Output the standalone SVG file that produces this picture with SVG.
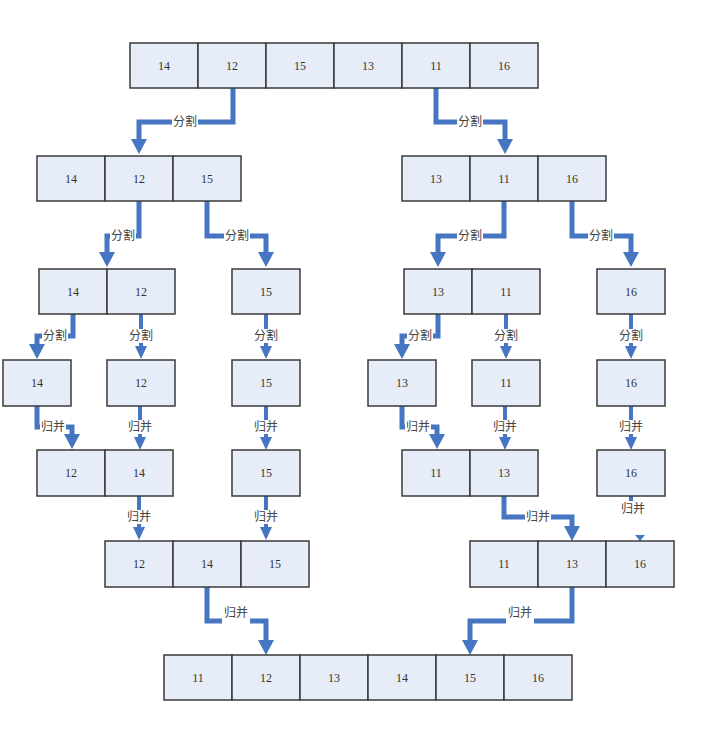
<svg xmlns="http://www.w3.org/2000/svg" width="717" height="730" viewBox="0 0 717 730">
<defs>
<style>
.c{fill:#e7edf8;stroke:#3a3a3a;stroke-width:1.5}
.n{font-family:"Liberation Serif",serif;font-size:12px;fill:#333;text-anchor:middle;dominant-baseline:central}
.l{font-family:"Liberation Serif","Noto Sans CJK SC",serif;font-size:12px;fill:#444;text-anchor:middle;dominant-baseline:central}
.lb{fill:#fff}
.a{fill:none;stroke:#4676c2;stroke-width:5;marker-end:url(#big)}
.s{fill:none;stroke:#4676c2;stroke-width:4;marker-end:url(#small)}
</style>
<marker id="big" viewBox="0 0 15 16" refX="0" refY="8" markerWidth="15" markerHeight="16" markerUnits="userSpaceOnUse" orient="auto"><path d="M0,0L15,8L0,16z" fill="#4676c2"/></marker>
<marker id="small" viewBox="0 0 13 12" refX="0" refY="6" markerWidth="13" markerHeight="12" markerUnits="userSpaceOnUse" orient="auto"><path d="M0,0L13,6L0,12z" fill="#4676c2"/></marker>
</defs>
<rect width="717" height="730" fill="#fff"/>

<g id="connectors">
<path class="a" d="M233,88V122H139V139"/>
<path class="a" d="M436,88V122H505V139"/>
<path class="a" d="M139,201V236H107V252"/>
<path class="a" d="M207,201V236H266V252"/>
<path class="a" d="M504,201V236H438V252"/>
<path class="a" d="M572,201V236H631V252"/>
<path class="a" d="M73,314V336H37V344"/>
<path class="s" d="M141,314V346"/>
<path class="s" d="M266,314V346"/>
<path class="a" d="M438,314V336H402V344"/>
<path class="s" d="M506,314V346"/>
<path class="s" d="M631,314V346"/>
<path class="a" d="M37,406V427H72V434"/>
<path class="s" d="M140,406V437"/>
<path class="s" d="M266,406V437"/>
<path class="a" d="M402,406V427H437V434"/>
<path class="s" d="M505,406V437"/>
<path class="s" d="M631,406V437"/>
<path class="s" d="M139,496V527"/>
<path class="s" d="M266,496V527"/>
<path class="a" d="M504,496V517H572V526"/>
<path d="M631,496V501" stroke="#4676c2" stroke-width="4"/>
<path d="M635,535L645,535L640,541z" fill="#4676c2"/>
<path class="a" d="M207,587V621H266V640"/>
<path class="a" d="M572,587V621H470V640"/>

<rect class="lb" x="172" y="115" width="26" height="14"/><text class="l" x="185" y="122">分割</text>
<rect class="lb" x="457" y="115" width="26" height="14"/><text class="l" x="470" y="122">分割</text>
<rect class="lb" x="110" y="229" width="26" height="14"/><text class="l" x="123" y="236">分割</text>
<rect class="lb" x="224" y="229" width="26" height="14"/><text class="l" x="237" y="236">分割</text>
<rect class="lb" x="457" y="229" width="26" height="14"/><text class="l" x="470" y="236">分割</text>
<rect class="lb" x="588" y="229" width="26" height="14"/><text class="l" x="601" y="236">分割</text>
<rect class="lb" x="42" y="329" width="26" height="14"/><text class="l" x="55" y="336">分割</text>
<rect class="lb" x="128" y="329" width="26" height="14"/><text class="l" x="141" y="336">分割</text>
<rect class="lb" x="253" y="329" width="26" height="14"/><text class="l" x="266" y="336">分割</text>
<rect class="lb" x="407" y="329" width="26" height="14"/><text class="l" x="420" y="336">分割</text>
<rect class="lb" x="493" y="329" width="26" height="14"/><text class="l" x="506" y="336">分割</text>
<rect class="lb" x="618" y="329" width="26" height="14"/><text class="l" x="631" y="336">分割</text>
<rect class="lb" x="40" y="420" width="26" height="14"/><text class="l" x="53" y="427">归并</text>
<rect class="lb" x="127" y="420" width="26" height="14"/><text class="l" x="140" y="427">归并</text>
<rect class="lb" x="253" y="420" width="26" height="14"/><text class="l" x="266" y="427">归并</text>
<rect class="lb" x="405" y="420" width="26" height="14"/><text class="l" x="418" y="427">归并</text>
<rect class="lb" x="492" y="420" width="26" height="14"/><text class="l" x="505" y="427">归并</text>
<rect class="lb" x="618" y="420" width="26" height="14"/><text class="l" x="631" y="427">归并</text>
<rect class="lb" x="126" y="510" width="26" height="14"/><text class="l" x="139" y="517">归并</text>
<rect class="lb" x="253" y="510" width="26" height="14"/><text class="l" x="266" y="517">归并</text>
<rect class="lb" x="525" y="510" width="26" height="14"/><text class="l" x="538" y="517">归并</text>
<text class="l" x="633" y="509">归并</text>
<rect class="lb" x="222" y="606" width="28" height="18"/><text class="l" x="236" y="613">归并</text>
<rect class="lb" x="506" y="606" width="28" height="18"/><text class="l" x="520" y="613">归并</text>
</g>

<g id="row1">
<rect class="c" x="130" y="43" width="68" height="45"/><text class="n" x="164" y="65.5">14</text>
<rect class="c" x="198" y="43" width="68" height="45"/><text class="n" x="232" y="65.5">12</text>
<rect class="c" x="266" y="43" width="68" height="45"/><text class="n" x="300" y="65.5">15</text>
<rect class="c" x="334" y="43" width="68" height="45"/><text class="n" x="368" y="65.5">13</text>
<rect class="c" x="402" y="43" width="68" height="45"/><text class="n" x="436" y="65.5">11</text>
<rect class="c" x="470" y="43" width="68" height="45"/><text class="n" x="504" y="65.5">16</text>
</g>

<g id="row2-left">
<rect class="c" x="37" y="156" width="68" height="45"/><text class="n" x="71" y="178.5">14</text>
<rect class="c" x="105" y="156" width="68" height="45"/><text class="n" x="139" y="178.5">12</text>
<rect class="c" x="173" y="156" width="68" height="45"/><text class="n" x="207" y="178.5">15</text>
</g>
<g id="row2-right">
<rect class="c" x="402" y="156" width="68" height="45"/><text class="n" x="436" y="178.5">13</text>
<rect class="c" x="470" y="156" width="68" height="45"/><text class="n" x="504" y="178.5">11</text>
<rect class="c" x="538" y="156" width="68" height="45"/><text class="n" x="572" y="178.5">16</text>
</g>

<g id="row3-a">
<rect class="c" x="39" y="269" width="68" height="45"/><text class="n" x="73" y="291.5">14</text>
<rect class="c" x="107" y="269" width="68" height="45"/><text class="n" x="141" y="291.5">12</text>
</g>
<g id="row3-b"><rect class="c" x="232" y="269" width="68" height="45"/><text class="n" x="266" y="291.5">15</text></g>
<g id="row3-c">
<rect class="c" x="404" y="269" width="68" height="45"/><text class="n" x="438" y="291.5">13</text>
<rect class="c" x="472" y="269" width="68" height="45"/><text class="n" x="506" y="291.5">11</text>
</g>
<g id="row3-d"><rect class="c" x="597" y="269" width="68" height="45"/><text class="n" x="631" y="291.5">16</text></g>

<g id="row4-a"><rect class="c" x="3" y="360" width="68" height="46"/><text class="n" x="37" y="383">14</text></g>
<g id="row4-b"><rect class="c" x="107" y="360" width="68" height="46"/><text class="n" x="141" y="383">12</text></g>
<g id="row4-c"><rect class="c" x="232" y="360" width="68" height="46"/><text class="n" x="266" y="383">15</text></g>
<g id="row4-d"><rect class="c" x="368" y="360" width="68" height="46"/><text class="n" x="402" y="383">13</text></g>
<g id="row4-e"><rect class="c" x="472" y="360" width="68" height="46"/><text class="n" x="506" y="383">11</text></g>
<g id="row4-f"><rect class="c" x="597" y="360" width="68" height="46"/><text class="n" x="631" y="383">16</text></g>

<g id="row5-a">
<rect class="c" x="37" y="450" width="68" height="46"/><text class="n" x="71" y="473">12</text>
<rect class="c" x="105" y="450" width="68" height="46"/><text class="n" x="139" y="473">14</text>
</g>
<g id="row5-b"><rect class="c" x="232" y="450" width="68" height="46"/><text class="n" x="266" y="473">15</text></g>
<g id="row5-c">
<rect class="c" x="402" y="450" width="68" height="46"/><text class="n" x="436" y="473">11</text>
<rect class="c" x="470" y="450" width="68" height="46"/><text class="n" x="504" y="473">13</text>
</g>
<g id="row5-d"><rect class="c" x="597" y="450" width="68" height="46"/><text class="n" x="631" y="473">16</text></g>

<g id="row6-left">
<rect class="c" x="105" y="541" width="68" height="46"/><text class="n" x="139" y="564">12</text>
<rect class="c" x="173" y="541" width="68" height="46"/><text class="n" x="207" y="564">14</text>
<rect class="c" x="241" y="541" width="68" height="46"/><text class="n" x="275" y="564">15</text>
</g>
<g id="row6-right">
<rect class="c" x="470" y="541" width="68" height="46"/><text class="n" x="504" y="564">11</text>
<rect class="c" x="538" y="541" width="68" height="46"/><text class="n" x="572" y="564">13</text>
<rect class="c" x="606" y="541" width="68" height="46"/><text class="n" x="640" y="564">16</text>
</g>

<g id="row7">
<rect class="c" x="164" y="655" width="68" height="45"/><text class="n" x="198" y="677.5">11</text>
<rect class="c" x="232" y="655" width="68" height="45"/><text class="n" x="266" y="677.5">12</text>
<rect class="c" x="300" y="655" width="68" height="45"/><text class="n" x="334" y="677.5">13</text>
<rect class="c" x="368" y="655" width="68" height="45"/><text class="n" x="402" y="677.5">14</text>
<rect class="c" x="436" y="655" width="68" height="45"/><text class="n" x="470" y="677.5">15</text>
<rect class="c" x="504" y="655" width="68" height="45"/><text class="n" x="538" y="677.5">16</text>
</g>
</svg>
